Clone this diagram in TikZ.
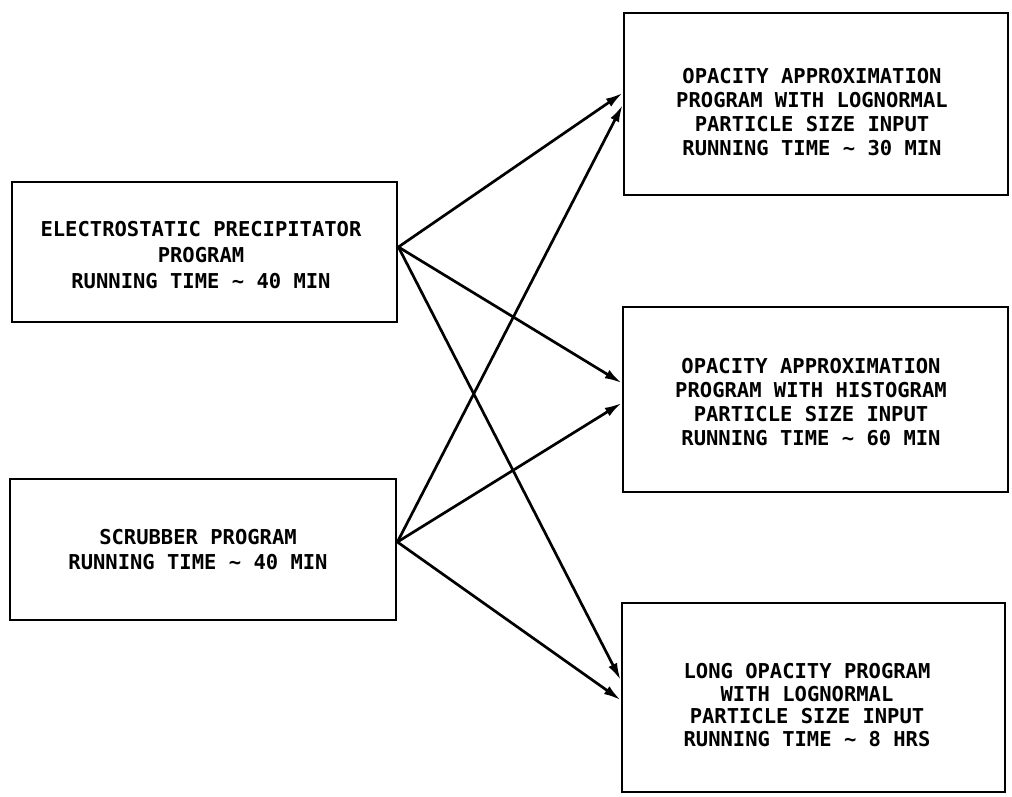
\documentclass[tikz,border=0pt]{standalone}
\usepackage{fontspec}
\newfontfamily\lettering{DejaVu Sans Mono}
\usetikzlibrary{arrows.meta,calc}
\tikzset{
  box/.style={draw=black, line width=2.8pt, rectangle, inner sep=0pt},
  lbl/.style={align=center, inner sep=0pt, font=\lettering\bfseries\fontsize{20.5}{24}\selectfont},
  link/.style={draw=black, line width=2.7pt, -{Latex[length=17pt,width=9.5pt]}}
}
\begin{document}
\begin{tikzpicture}[x=1pt,y=-1pt]
\useasboundingbox (0,0) rectangle (1012,797);
% boxes
\node[box, minimum width=385pt, minimum height=140pt] (b1) at (204.5,252) {};
\node[box, minimum width=386pt, minimum height=141pt] (b2) at (203,549.5) {};
\node[box, minimum width=384pt, minimum height=182pt] (b3) at (816,104) {};
\node[box, minimum width=385pt, minimum height=185pt] (b4) at (815.5,399.5) {};
\node[box, minimum width=383pt, minimum height=189pt] (b5) at (813.5,697.5) {};
% texts
\node[lbl, font=\lettering\bfseries\fontsize{20.5}{26}\selectfont] (t1) at (201,255) {ELECTROSTATIC PRECIPITATOR\\PROGRAM\\RUNNING TIME \textasciitilde{} 40 MIN};
\node[lbl, font=\lettering\bfseries\fontsize{20.5}{25}\selectfont] (t2) at (198,549.5) {SCRUBBER PROGRAM\\RUNNING TIME \textasciitilde{} 40 MIN};
\node[lbl] (t3) at (812,112.5) {OPACITY APPROXIMATION\\PROGRAM WITH LOGNORMAL\\PARTICLE SIZE INPUT\\RUNNING TIME \textasciitilde{} 30 MIN};
\node[lbl] (t4) at (811,402) {OPACITY APPROXIMATION\\PROGRAM WITH HISTOGRAM\\PARTICLE SIZE INPUT\\RUNNING TIME \textasciitilde{} 60 MIN};
\node[lbl, font=\lettering\bfseries\fontsize{20.5}{22.5}\selectfont] (t5) at (807,705) {LONG OPACITY PROGRAM\\WITH LOGNORMAL\\PARTICLE SIZE INPUT\\RUNNING TIME \textasciitilde{} 8 HRS};
% connector end points
\coordinate (o1) at ($(b1.east)+(0,-5)$);
\coordinate (o2) at ($(b2.east)+(0,-7.5)$);
\coordinate (e31) at ($(b3.west)+(0,-11)$);
\coordinate (e32) at ($(b3.west)+(0,1)$);
\coordinate (e41) at ($(b4.west)+(0,-16.5)$);
\coordinate (e42) at ($(b4.west)+(0,3.5)$);
\coordinate (e51) at ($(b5.west)+(0,-17.5)$);
\coordinate (e52) at ($(b5.west)+(0,2.5)$);
% connectors
\draw[link] (o1) -- (e31);
\draw[link] (o1) -- (e41);
\draw[link] (o1) -- (e51);
\draw[link] (o2) -- (e32);
\draw[link] (o2) -- (e42);
\draw[link] (o2) -- (e52);
\end{tikzpicture}
\end{document}
